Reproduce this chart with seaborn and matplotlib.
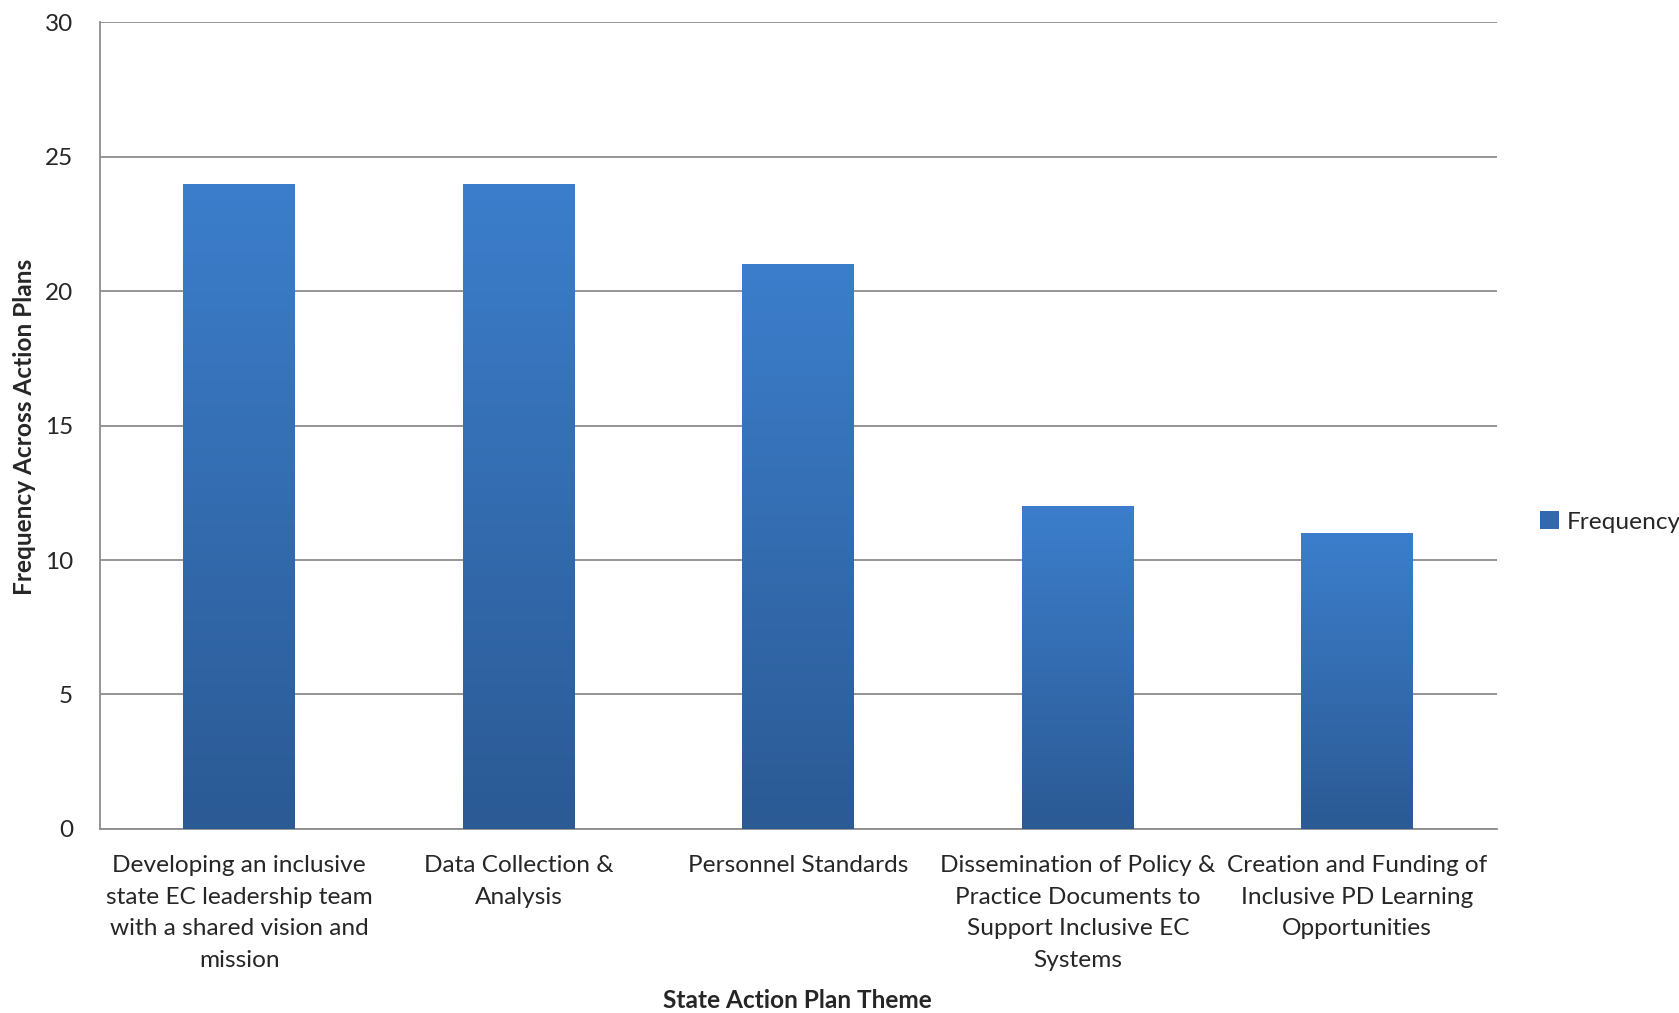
import matplotlib
matplotlib.use("Agg")
import matplotlib.pyplot as plt
import numpy as np
import pandas as pd
import seaborn as sns
from matplotlib.colors import LinearSegmentedColormap

themes = [
    "Developing an inclusive\nstate EC leadership team\nwith a shared vision and\nmission",
    "Data Collection &\nAnalysis",
    "Personnel Standards",
    "Dissemination of Policy &\nPractice Documents to\nSupport Inclusive EC\nSystems",
    "Creation and Funding of\nInclusive PD Learning\nOpportunities",
]
frequency = [24, 24, 21, 12, 11]

df = pd.DataFrame({"theme": themes, "Frequency": frequency})

sns.set_style("white")
plt.rcParams["font.family"] = ["Lato", "DejaVu Sans"]

fig = plt.figure(figsize=(16.79, 10.13), dpi=100)
ax = fig.add_axes([0.0593, 0.1818, 0.8323, 0.796])

sns.barplot(data=df, x="theme", y="Frequency", color="#3A78C4", width=0.40,
            ax=ax, zorder=3, label="Frequency")

# gradient fill for bars
grad = LinearSegmentedColormap.from_list("g", ["#2B5A94", "#3C7ECC"])
for p in ax.patches:
    x0, y0 = p.get_x(), p.get_y()
    w, h = p.get_width(), p.get_height()
    p.set_facecolor("none")
    p.set_edgecolor("none")
    im = ax.imshow(np.linspace(0, 1, 256).reshape(-1, 1), cmap=grad, origin="lower",
                   extent=[x0, x0 + w, y0, y0 + h], aspect="auto", zorder=3)
    im.set_clip_path(p)

ax.set_xlim(-0.5, len(themes) - 0.5)
ax.set_ylim(0, 30)
ax.set_yticks(range(0, 31, 5))
ax.yaxis.grid(True, color="#8C8C8C", linewidth=1.3, zorder=0)
ax.set_axisbelow(True)

for s in ["top", "right"]:
    ax.spines[s].set_visible(False)
for s in ["left", "bottom"]:
    ax.spines[s].set_color("#8C8C8C")
    ax.spines[s].set_linewidth(1.3)

ax.set_xticks(np.arange(-0.5, len(themes), 1.0))
ax.set_xticklabels([])
ax.set_xticks(range(len(themes)), minor=True)
ax.set_xticklabels(themes, minor=True, fontsize=17.6, linespacing=1.62)
ax.tick_params(axis="x", which="major", length=9, width=1.3, color="#8C8C8C", direction="out")
ax.tick_params(axis="x", which="minor", length=0, pad=19)
ax.tick_params(axis="y", length=9, width=1.3, color="#8C8C8C", direction="out",
               labelsize=17.5, pad=10)

ax.set_xlabel("")
ax.set_ylabel("")
fig.text(0.475, 0.012, "State Action Plan Theme", ha="center", va="center",
         fontsize=17.6, fontweight="bold")
fig.text(0.0145, 0.579, "Frequency Across Action Plans", ha="center", va="center",
         rotation=90, fontsize=17.6, fontweight="bold")

handles, labels = ax.get_legend_handles_labels()
leg = ax.legend(handles, labels, loc="center left", bbox_to_anchor=(0.917, 0.485),
                bbox_transform=fig.transFigure, frameon=False, fontsize=17.6,
                handlelength=0.8, handleheight=0.8, handletextpad=0.3, borderpad=0,
                borderaxespad=0)
for h in leg.legend_handles:
    h.set_facecolor("#3468AE")
    h.set_edgecolor("none")

fig.savefig("out.png", dpi=100)
